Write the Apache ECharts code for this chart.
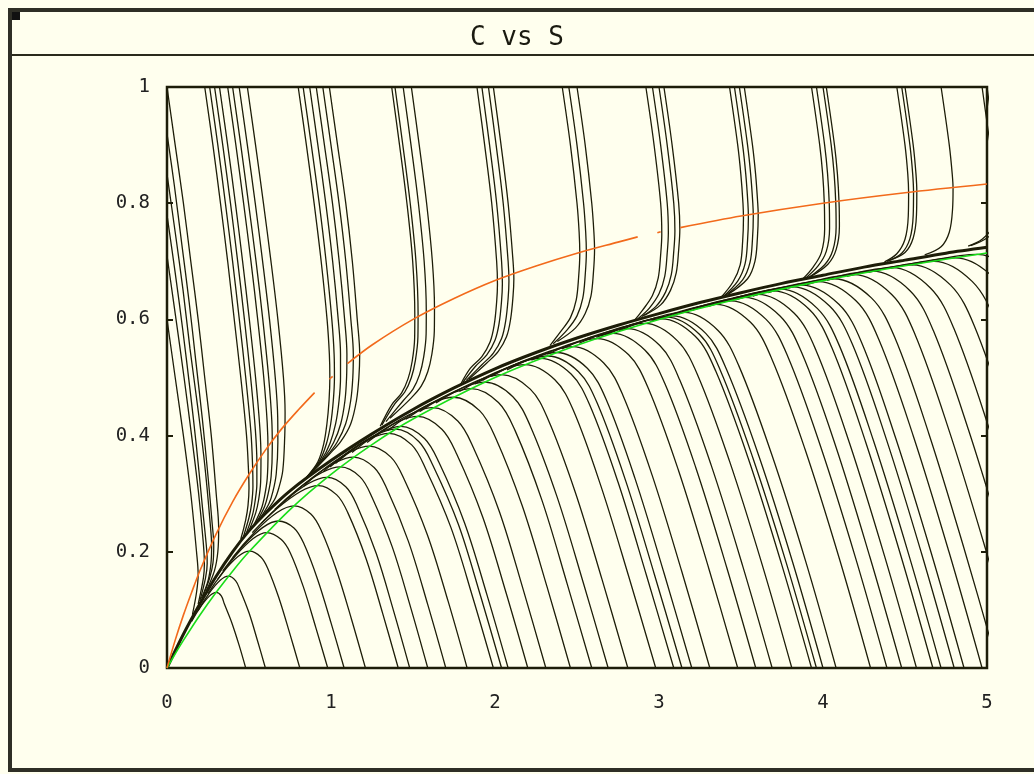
<!DOCTYPE html>
<html>
<head>
<meta charset="utf-8">
<title>C vs S</title>
<script src="https://cdn.jsdelivr.net/npm/echarts@6/dist/echarts.min.js"></script>
<style>
  html, body { margin: 0; padding: 0; background: #ffffff; }
  #chart { width: 1034px; height: 774px; }
</style>
</head>
<body>
<div id="chart"></div>
<script>
var xTicks = [0, 1, 2, 3, 4, 5];
var yTicks = [0, 0.2, 0.4, 0.6, 0.8, 1];

// quasi steady state curve (green)
var greenCurve = [[0,0],[0.05,0.0244],[0.1,0.0476],[0.2,0.0909],[0.3,0.1304],[0.4,0.1667],[0.5,0.2],[0.75,0.2727],[1,0.3333],[1.25,0.3846],[1.5,0.4286],[2,0.5],[2.5,0.5556],[3,0.6],[3.5,0.6364],[4,0.6667],[4.5,0.6923],[5,0.7143]];

// S nullcline (orange), drawn in pieces
var orangeSegments = [
  [[0,0],[0.05,0.048],[0.1,0.091],[0.15,0.13],[0.2,0.167],[0.3,0.231],[0.4,0.286],[0.5,0.333],[0.6,0.375],[0.7,0.412],[0.8,0.444],[0.9,0.474]],
  [[0.99,0.497],[1.01,0.502]],
  [[1.1,0.524],[1.25,0.556],[1.5,0.6],[1.75,0.636],[2,0.667],[2.25,0.692],[2.5,0.714],[2.75,0.733],[2.87,0.742]],
  [[2.99,0.749],[3.01,0.751]],
  [[3.13,0.758],[3.5,0.778],[4,0.8],[4.5,0.818],[5,0.833]]
];

// thick bundle where all trajectories merge
var slowManifold = [[0,0],[0.1,0.058],[0.2,0.11],[0.3,0.158],[0.4,0.2],[0.5,0.236],[0.6,0.266],[0.75,0.305],[1,0.357],[1.25,0.403],[1.5,0.445],[1.75,0.482],[2,0.515],[2.25,0.543],[2.5,0.568],[2.75,0.59],[3,0.61],[3.25,0.629],[3.5,0.646],[3.75,0.662],[4,0.676],[4.25,0.69],[4.5,0.702],[4.75,0.714],[5,0.724]];

// trajectories starting on the C axis
var topFanAxis = [
  [[0,1],[0.05,0.9],[0.1,0.8],[0.145,0.7],[0.19,0.6],[0.23,0.5],[0.27,0.4],[0.30,0.3],[0.315,0.24],[0.31,0.2],[0.29,0.168],[0.24,0.133]],
  [[0,0.92],[0.045,0.83],[0.09,0.73],[0.135,0.63],[0.175,0.53],[0.215,0.43],[0.25,0.33],[0.275,0.25],[0.285,0.21],[0.28,0.18],[0.26,0.155],[0.22,0.124]],
  [[0,0.85],[0.05,0.75],[0.098,0.65],[0.14,0.55],[0.187,0.45],[0.23,0.35],[0.263,0.25],[0.272,0.21],[0.268,0.18],[0.25,0.15],[0.21,0.12]],
  [[0,0.78],[0.05,0.68],[0.097,0.58],[0.14,0.48],[0.18,0.38],[0.215,0.28],[0.243,0.2],[0.245,0.18],[0.235,0.155],[0.2,0.115]],
  [[0,0.71],[0.055,0.6],[0.104,0.5],[0.15,0.4],[0.193,0.3],[0.22,0.22],[0.228,0.18],[0.222,0.155],[0.19,0.11]],
  [[0,0.6],[0.05,0.5],[0.1,0.4],[0.145,0.3],[0.18,0.2],[0.19,0.16],[0.18,0.13],[0.155,0.092]]
];

// trajectories starting at C = 1
var topFan05 = [
  [[0.23,1],[0.28,0.9],[0.326,0.8],[0.37,0.7],[0.41,0.6],[0.45,0.5],[0.485,0.4],[0.497,0.34],[0.5,0.31],[0.494,0.28],[0.48,0.255],[0.45,0.222]],
  [[0.26,1],[0.31,0.9],[0.356,0.8],[0.40,0.7],[0.441,0.6],[0.48,0.5],[0.512,0.405],[0.522,0.347],[0.524,0.313],[0.516,0.283],[0.50,0.259],[0.467,0.227]],
  [[0.29,1],[0.34,0.9],[0.387,0.8],[0.431,0.7],[0.472,0.6],[0.51,0.5],[0.539,0.409],[0.548,0.354],[0.548,0.317],[0.537,0.287],[0.521,0.263],[0.485,0.233]],
  [[0.32,1],[0.37,0.9],[0.417,0.8],[0.461,0.7],[0.502,0.6],[0.54,0.5],[0.566,0.414],[0.573,0.361],[0.571,0.32],[0.559,0.29],[0.541,0.267],[0.502,0.238]],
  [[0.37,1],[0.42,0.9],[0.467,0.8],[0.512,0.7],[0.553,0.6],[0.59,0.5],[0.611,0.422],[0.616,0.372],[0.611,0.326],[0.595,0.296],[0.575,0.274],[0.531,0.247]],
  [[0.40,1],[0.45,0.9],[0.497,0.8],[0.543,0.7],[0.584,0.6],[0.62,0.5],[0.639,0.426],[0.642,0.379],[0.635,0.33],[0.617,0.30],[0.595,0.278],[0.548,0.252]],
  [[0.44,1],[0.49,0.9],[0.538,0.8],[0.583,0.7],[0.625,0.6],[0.66,0.5],[0.675,0.432],[0.676,0.388],[0.666,0.334],[0.646,0.304],[0.622,0.283],[0.571,0.259]],
  [[0.49,1],[0.54,0.9],[0.588,0.8],[0.634,0.7],[0.676,0.6],[0.71,0.5],[0.72,0.44],[0.718,0.4],[0.706,0.34],[0.682,0.31],[0.656,0.29],[0.6,0.268]]
];

var topFan10 = [
  [[0.8,1],[0.85,0.9],[0.897,0.8],[0.94,0.7],[0.976,0.6],[0.99,0.54],[0.993,0.5],[0.988,0.46],[0.975,0.42],[0.955,0.385],[0.92,0.355],[0.85,0.328]],
  [[0.83,1],[0.88,0.9],[0.928,0.8],[0.97,0.7],[1.005,0.6],[1.019,0.54],[1.021,0.5],[1.014,0.46],[0.998,0.42],[0.972,0.386],[0.931,0.357],[0.852,0.328]],
  [[0.87,1],[0.92,0.9],[0.968,0.8],[1.01,0.7],[1.044,0.6],[1.058,0.54],[1.058,0.5],[1.049,0.46],[1.028,0.42],[0.994,0.387],[0.946,0.36],[0.854,0.329]],
  [[0.91,1],[0.96,0.9],[1.009,0.8],[1.05,0.7],[1.083,0.6],[1.097,0.54],[1.095,0.5],[1.085,0.46],[1.059,0.42],[1.016,0.388],[0.961,0.363],[0.856,0.329]],
  [[0.95,1],[1.0,0.9],[1.049,0.8],[1.09,0.7],[1.121,0.6],[1.136,0.54],[1.133,0.5],[1.12,0.46],[1.089,0.42],[1.038,0.389],[0.975,0.365],[0.858,0.33]],
  [[0.99,1],[1.04,0.9],[1.09,0.8],[1.13,0.7],[1.16,0.6],[1.175,0.54],[1.17,0.5],[1.155,0.46],[1.12,0.42],[1.06,0.39],[0.99,0.368],[0.86,0.33]]
];

var topFan15 = [
  [[1.37,1],[1.418,0.9],[1.463,0.8],[1.498,0.7],[1.511,0.608],[1.51,0.568],[1.495,0.528],[1.47,0.498],[1.43,0.473],[1.37,0.453],[1.30,0.416]],
  [[1.39,1],[1.438,0.9],[1.483,0.8],[1.518,0.7],[1.531,0.61],[1.53,0.57],[1.515,0.53],[1.49,0.50],[1.45,0.475],[1.39,0.455],[1.31,0.418]],
  [[1.44,1],[1.488,0.9],[1.533,0.8],[1.568,0.7],[1.581,0.615],[1.58,0.575],[1.565,0.535],[1.54,0.505],[1.5,0.48],[1.44,0.46],[1.335,0.424]],
  [[1.49,1],[1.538,0.9],[1.583,0.8],[1.618,0.7],[1.631,0.62],[1.63,0.58],[1.615,0.54],[1.59,0.51],[1.55,0.485],[1.49,0.465],[1.36,0.43]]
];

var topFan20 = [
  [[1.89,1],[1.937,0.9],[1.98,0.8],[2.01,0.7],[2.015,0.66],[2.01,0.63],[1.995,0.59],[1.97,0.561],[1.92,0.536],[1.85,0.516],[1.79,0.488]],
  [[1.92,1],[1.967,0.9],[2.01,0.8],[2.04,0.7],[2.045,0.662],[2.04,0.632],[2.025,0.593],[2.0,0.564],[1.95,0.539],[1.88,0.519],[1.805,0.492]],
  [[1.96,1],[2.007,0.9],[2.05,0.8],[2.08,0.7],[2.085,0.666],[2.08,0.636],[2.065,0.597],[2.04,0.567],[1.99,0.542],[1.92,0.522],[1.825,0.495]],
  [[1.99,1],[2.037,0.9],[2.08,0.8],[2.11,0.7],[2.115,0.67],[2.11,0.64],[2.095,0.6],[2.07,0.57],[2.02,0.545],[1.95,0.525],[1.84,0.497]]
];

var topFan25 = [
  [[2.41,1],[2.46,0.9],[2.5,0.8],[2.513,0.75],[2.517,0.713],[2.51,0.673],[2.495,0.633],[2.46,0.603],[2.40,0.579],[2.335,0.555]],
  [[2.45,1],[2.5,0.9],[2.54,0.8],[2.553,0.75],[2.557,0.716],[2.55,0.676],[2.535,0.636],[2.5,0.606],[2.44,0.582],[2.355,0.558]],
  [[2.5,1],[2.55,0.9],[2.59,0.8],[2.603,0.75],[2.607,0.72],[2.6,0.68],[2.585,0.64],[2.55,0.61],[2.49,0.585],[2.38,0.562]]
];

var topFan30 = [
  [[2.92,1],[2.97,0.9],[3.01,0.8],[3.017,0.746],[3.01,0.711],[2.995,0.671],[2.96,0.641],[2.90,0.616],[2.855,0.6]],
  [[2.96,1],[3.01,0.9],[3.05,0.8],[3.057,0.749],[3.05,0.714],[3.035,0.674],[3.0,0.644],[2.94,0.619],[2.875,0.602]],
  [[3.0,1],[3.05,0.9],[3.09,0.8],[3.097,0.752],[3.09,0.717],[3.075,0.677],[3.04,0.647],[2.98,0.622],[2.895,0.605]],
  [[3.03,1],[3.08,0.9],[3.12,0.8],[3.127,0.755],[3.12,0.72],[3.105,0.68],[3.07,0.65],[3.01,0.625],[2.91,0.607]]
];

var topFan35 = [
  [[3.43,1],[3.48,0.9],[3.499,0.85],[3.512,0.8],[3.515,0.774],[3.51,0.734],[3.495,0.694],[3.45,0.664],[3.375,0.637]],
  [[3.46,1],[3.51,0.9],[3.529,0.85],[3.542,0.8],[3.545,0.776],[3.54,0.736],[3.525,0.696],[3.48,0.666],[3.39,0.639]],
  [[3.49,1],[3.54,0.9],[3.559,0.85],[3.572,0.8],[3.575,0.778],[3.57,0.738],[3.555,0.698],[3.51,0.668],[3.405,0.641]],
  [[3.52,1],[3.57,0.9],[3.589,0.85],[3.602,0.8],[3.605,0.78],[3.6,0.74],[3.585,0.7],[3.54,0.67],[3.42,0.643]]
];

var topFan40 = [
  [[3.93,1],[3.98,0.9],[3.998,0.85],[4.008,0.8],[4.01,0.755],[3.99,0.715],[3.94,0.69],[3.875,0.669]],
  [[3.96,1],[4.01,0.9],[4.028,0.85],[4.038,0.8],[4.04,0.757],[4.02,0.717],[3.97,0.692],[3.89,0.67]],
  [[4.0,1],[4.05,0.9],[4.068,0.85],[4.078,0.8],[4.08,0.759],[4.06,0.719],[4.01,0.694],[3.91,0.672]],
  [[4.02,1],[4.07,0.9],[4.088,0.85],[4.098,0.8],[4.1,0.76],[4.08,0.72],[4.03,0.695],[3.92,0.673]]
];

var topFan45 = [
  [[4.45,1],[4.5,0.9],[4.517,0.85],[4.522,0.818],[4.52,0.778],[4.5,0.738],[4.45,0.713],[4.375,0.699]],
  [[4.48,1],[4.53,0.9],[4.547,0.85],[4.552,0.819],[4.55,0.779],[4.53,0.739],[4.48,0.714],[4.39,0.7]],
  [[4.5,1],[4.55,0.9],[4.567,0.85],[4.572,0.82],[4.57,0.78],[4.55,0.74],[4.5,0.715],[4.4,0.701]],
  [[4.72,1],[4.77,0.9],[4.788,0.85],[4.793,0.825],[4.79,0.79],[4.77,0.75],[4.72,0.725],[4.62,0.711]]
];

var topFan50 = [
  [[4.97,1],[5.02,0.9],[5.05,0.85],[5.055,0.833],[5.05,0.798],[5.03,0.758],[4.97,0.738],[4.885,0.726]],
  [[5.0,1],[5.05,0.9],[5.08,0.85],[5.085,0.835],[5.08,0.8],[5.06,0.76],[5.0,0.74],[4.9,0.727]]
];

// trajectories starting at C = 0
var bottomCurves = [
  [[0.48,0],[0.44,0.039],[0.395,0.078],[0.35,0.11],[0.331,0.124],[0.30,0.13],[0.15,0.08]],
  [[0.60,0],[0.552,0.047],[0.50,0.095],[0.446,0.134],[0.419,0.15],[0.374,0.158],[0.19,0.099]],
  [[0.81,0],[0.748,0.06],[0.682,0.121],[0.615,0.171],[0.572,0.191],[0.503,0.201],[0.25,0.128]],
  [[0.98,0],[0.907,0.07],[0.831,0.14],[0.752,0.198],[0.697,0.221],[0.608,0.233],[0.31,0.153]],
  [[1.08,0],[1.002,0.076],[0.919,0.152],[0.833,0.215],[0.774,0.241],[0.679,0.253],[0.34,0.167]],
  [[1.21,0],[1.125,0.084],[1.035,0.167],[0.94,0.237],[0.877,0.265],[0.775,0.279],[0.40,0.19]],
  [[1.41,0],[1.315,0.094],[1.214,0.188],[1.103,0.267],[1.035,0.298],[0.923,0.314],[0.52,0.233]],
  [[1.48,0],[1.382,0.098],[1.276,0.197],[1.16,0.279],[1.09,0.312],[0.975,0.328],[0.575,0.249]],
  [[1.59,0],[1.486,0.104],[1.374,0.208],[1.25,0.294],[1.177,0.329],[1.057,0.346],[0.657,0.273]],
  [[1.70,0],[1.59,0.109],[1.472,0.218],[1.34,0.309],[1.263,0.345],[1.138,0.363],[0.738,0.292]],
  [[1.83,0],[1.714,0.115],[1.588,0.229],[1.446,0.325],[1.365,0.363],[1.234,0.382],[0.834,0.313]],
  [[1.99,0],[1.865,0.121],[1.731,0.242],[1.577,0.343],[1.492,0.384],[1.353,0.404],[0.953,0.338]],
  [[2.04,0],[1.913,0.123],[1.777,0.247],[1.621,0.349],[1.535,0.39],[1.394,0.411],[0.994,0.346]],
  [[2.08,0],[1.952,0.125],[1.814,0.25],[1.658,0.354],[1.57,0.395],[1.427,0.416],[1.027,0.352]],
  [[2.20,0],[2.067,0.13],[1.925,0.26],[1.767,0.368],[1.676,0.411],[1.528,0.433],[1.128,0.371]],
  [[2.31,0],[2.173,0.134],[2.027,0.269],[1.867,0.38],[1.773,0.425],[1.62,0.448],[1.22,0.388]],
  [[2.46,0],[2.317,0.14],[2.165,0.28],[2.004,0.396],[1.906,0.443],[1.746,0.466],[1.346,0.409]],
  [[2.59,0],[2.441,0.144],[2.286,0.289],[2.122,0.409],[2.021,0.457],[1.856,0.481],[1.456,0.428]],
  [[2.69,0],[2.537,0.148],[2.378,0.295],[2.213,0.418],[2.109,0.467],[1.94,0.492],[1.54,0.441]],
  [[2.81,0],[2.653,0.152],[2.489,0.303],[2.322,0.429],[2.215,0.48],[2.04,0.505],[1.64,0.456]],
  [[2.98,0],[2.816,0.157],[2.646,0.313],[2.477,0.444],[2.365,0.496],[2.183,0.522],[1.783,0.476]],
  [[3.09,0],[2.923,0.16],[2.75,0.32],[2.577,0.453],[2.464,0.506],[2.279,0.533],[1.879,0.489]],
  [[3.14,0],[2.972,0.161],[2.797,0.322],[2.623,0.456],[2.509,0.51],[2.323,0.537],[1.923,0.495]],
  [[3.20,0],[3.031,0.163],[2.854,0.326],[2.678,0.462],[2.563,0.516],[2.376,0.543],[1.976,0.502]],
  [[3.31,0],[3.139,0.166],[2.958,0.332],[2.779,0.47],[2.663,0.525],[2.473,0.553],[2.073,0.513]],
  [[3.48,0],[3.305,0.17],[3.119,0.34],[2.934,0.482],[2.815,0.539],[2.622,0.567],[2.222,0.53]],
  [[3.59,0],[3.413,0.173],[3.223,0.346],[3.035,0.49],[2.915,0.547],[2.719,0.576],[2.319,0.54]],
  [[3.69,0],[3.511,0.175],[3.317,0.35],[3.126,0.496],[3.005,0.555],[2.807,0.584],[2.407,0.549]],
  [[3.81,0],[3.629,0.178],[3.43,0.356],[3.236,0.504],[3.113,0.563],[2.913,0.593],[2.513,0.559]],
  [[3.93,0],[3.746,0.18],[3.544,0.361],[3.346,0.511],[3.221,0.571],[3.018,0.601],[2.618,0.569]],
  [[3.96,0],[3.776,0.181],[3.572,0.362],[3.373,0.513],[3.248,0.574],[3.045,0.604],[2.645,0.571]],
  [[4.00,0],[3.815,0.182],[3.61,0.364],[3.41,0.515],[3.285,0.576],[3.08,0.606],[2.68,0.574]],
  [[4.08,0],[3.894,0.184],[3.688,0.367],[3.487,0.52],[3.36,0.581],[3.154,0.612],[2.754,0.58]],
  [[4.29,0],[4.1,0.188],[3.891,0.376],[3.688,0.532],[3.558,0.595],[3.347,0.626],[2.947,0.596]],
  [[4.39,0],[4.198,0.19],[3.988,0.379],[3.784,0.537],[3.653,0.6],[3.439,0.632],[3.039,0.603]],
  [[4.48,0],[4.286,0.191],[4.076,0.383],[3.871,0.542],[3.738,0.606],[3.522,0.638],[3.122,0.61]],
  [[4.57,0],[4.375,0.193],[4.163,0.386],[3.957,0.547],[3.823,0.611],[3.604,0.643],[3.204,0.616]],
  [[4.67,0],[4.473,0.195],[4.26,0.389],[4.053,0.552],[3.917,0.617],[3.696,0.649],[3.296,0.622]],
  [[4.72,0],[4.522,0.196],[4.308,0.391],[4.101,0.554],[3.965,0.619],[3.742,0.652],[3.342,0.626]],
  [[4.80,0],[4.601,0.197],[4.386,0.394],[4.178,0.558],[4.04,0.623],[3.816,0.656],[3.416,0.631]],
  [[4.86,0],[4.66,0.198],[4.444,0.395],[4.236,0.56],[4.097,0.626],[3.871,0.659],[3.471,0.634]],
  [[4.97,0],[4.768,0.2],[4.551,0.399],[4.341,0.565],[4.201,0.632],[3.972,0.665],[3.572,0.64]]
];

// trajectories that come in through the right edge
var enteringCurves = [
  [[5.07,0],[4.865,0.201],[4.647,0.402],[4.436,0.57],[4.295,0.637],[4.066,0.67],[3.666,0.646]],
  [[5.2,0],[4.993,0.203],[4.772,0.406],[4.56,0.575],[4.419,0.643],[4.188,0.677],[3.788,0.654]],
  [[5.32,0],[5.11,0.205],[4.887,0.41],[4.674,0.58],[4.532,0.649],[4.301,0.683],[3.901,0.66]],
  [[5.45,0],[5.237,0.207],[5.012,0.413],[4.797,0.585],[4.655,0.654],[4.423,0.689],[4.023,0.667]],
  [[5.58,0],[5.364,0.208],[5.137,0.416],[4.921,0.59],[4.778,0.659],[4.545,0.694],[4.145,0.674]],
  [[5.72,0],[5.501,0.21],[5.271,0.42],[5.054,0.595],[4.911,0.665],[4.677,0.7],[4.277,0.681]],
  [[5.86,0],[5.638,0.212],[5.406,0.424],[5.187,0.6],[5.043,0.671],[4.808,0.706],[4.408,0.688]],
  [[6.0,0],[5.775,0.214],[5.54,0.427],[5.32,0.605],[5.176,0.676],[4.94,0.712],[4.54,0.694]]
];

var ink = '#1d1d08';
var paper = '#ffffee';
var monoFont = 'DejaVu Sans Mono';

var chart = echarts.init(document.getElementById('chart'), null, { renderer: 'canvas' });
var series = [];

function addCurves(list, width) {
    list.forEach(function (pts) {
        series.push({
            type: 'line',
            data: pts,
            smooth: 0.35,
            symbol: 'none',
            clip: true,
            silent: true,
            z: 2,
            lineStyle: { color: ink, width: width }
        });
    });
}

addCurves(bottomCurves, 1.3);
addCurves(enteringCurves, 1.3);
addCurves(topFanAxis, 1.3);
addCurves(topFan05, 1.3);
addCurves(topFan10, 1.3);
addCurves(topFan15, 1.3);
addCurves(topFan20, 1.3);
addCurves(topFan25, 1.3);
addCurves(topFan30, 1.3);
addCurves(topFan35, 1.3);
addCurves(topFan40, 1.3);
addCurves(topFan45, 1.3);
addCurves(topFan50, 1.3);

series.push({
    type: 'line', data: slowManifold, smooth: 0.3, symbol: 'none', silent: true, z: 3,
    lineStyle: { color: ink, width: 3 }
});
series.push({
    type: 'line', data: greenCurve, smooth: 0.3, symbol: 'none', silent: true, z: 4,
    lineStyle: { color: '#19dd19', width: 1.6 }
});
orangeSegments.forEach(function (seg) {
    series.push({
        type: 'line', data: seg, smooth: 0.3, symbol: 'none', silent: true, z: 5,
        lineStyle: { color: '#f26a1b', width: 1.6 }
    });
});

var option = {
    animation: false,
    backgroundColor: paper,
    title: {
        text: 'C vs S',
        left: 'center',
        top: 20,
        textStyle: { fontFamily: monoFont, fontSize: 26, fontWeight: 'normal', color: '#1a1a10' }
    },
    grid: {
        left: 167, right: 47, top: 87, bottom: 106,
        show: true, borderColor: ink, borderWidth: 2.5, backgroundColor: 'transparent'
    },
    xAxis: {
        type: 'value', min: xTicks[0], max: xTicks[xTicks.length - 1], interval: 1,
        axisLine: { show: false },
        axisTick: { show: false },
        splitLine: { show: false },
        axisLabel: { margin: 26, fontFamily: monoFont, fontSize: 19, color: '#222' }
    },
    yAxis: [{
        type: 'value', min: yTicks[0], max: yTicks[yTicks.length - 1], interval: 0.2,
        axisLine: { show: false },
        axisTick: { show: true, inside: true, length: 6, lineStyle: { color: ink, width: 2 } },
        splitLine: { show: false },
        axisLabel: { margin: 17, fontFamily: monoFont, fontSize: 19, color: '#222' }
    }, {
        type: 'value', position: 'right', min: 0, max: 1, interval: 0.2,
        axisLine: { show: false },
        axisTick: { show: true, inside: true, length: 6, lineStyle: { color: ink, width: 2 } },
        splitLine: { show: false },
        axisLabel: { show: false }
    }],
    graphic: [
        { type: 'rect', z: -10, silent: true, shape: { x: 10, y: 10, width: 1040, height: 760 },
          style: { fill: paper, stroke: '#2f2f26', lineWidth: 4 } },
        { type: 'line', z: -9, silent: true, shape: { x1: 12, y1: 55, x2: 1034, y2: 55 },
          style: { stroke: '#2a2a1c', lineWidth: 2 } },
        { type: 'rect', z: -9, silent: true, shape: { x: 12, y: 12, width: 8, height: 8 },
          style: { fill: '#111' } }
    ],
    series: series
};

chart.setOption(option);
</script>
</body>
</html>
